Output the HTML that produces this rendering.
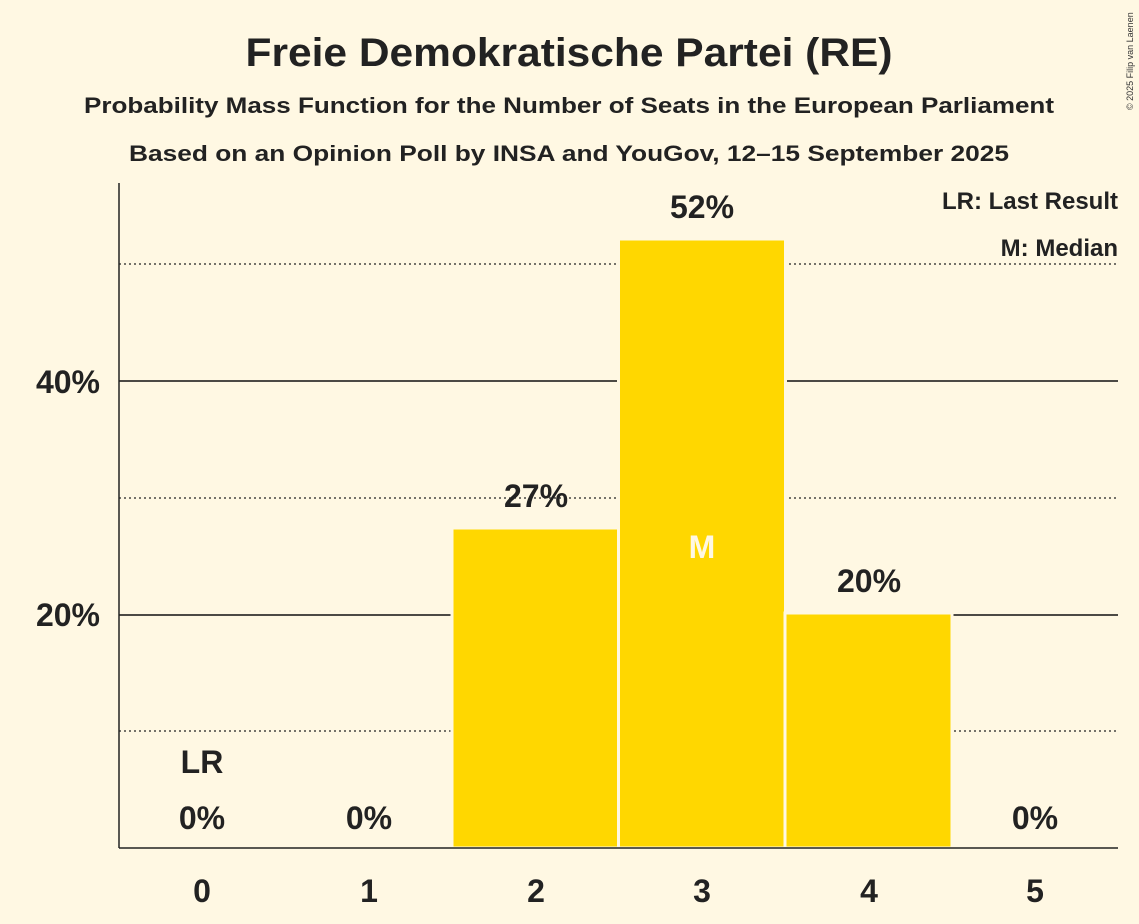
<!DOCTYPE html>
<html><head><meta charset="utf-8"><style>
html,body{margin:0;padding:0;background:#fff8e3;}
svg{display:block;font-family:"Liberation Sans",sans-serif;}
</style></head><body>
<svg width="1139" height="924" viewBox="0 0 1139 924">
<rect width="1139" height="924" fill="#fff8e3"/>
<text x="569" y="66" text-anchor="middle" font-size="40" font-weight="bold" fill="#222" textLength="647" lengthAdjust="spacingAndGlyphs">Freie Demokratische Partei (RE)</text>
<text x="569" y="113" text-anchor="middle" font-size="22" font-weight="bold" fill="#222" textLength="970" lengthAdjust="spacingAndGlyphs">Probability Mass Function for the Number of Seats in the European Parliament</text>
<text x="569" y="161" text-anchor="middle" font-size="22" font-weight="bold" fill="#222" textLength="880" lengthAdjust="spacingAndGlyphs">Based on an Opinion Poll by INSA and YouGov, 12–15 September 2025</text>
<text x="1133" y="110" font-size="9" fill="#333" transform="rotate(-90 1133 110)">© 2025 Filip van Laenen</text>
<g stroke="#222" stroke-width="1.3" stroke-dasharray="2,3">
<line x1="119" y1="731" x2="1118" y2="731"/>
<line x1="119" y1="498" x2="1118" y2="498"/>
<line x1="119" y1="264" x2="1118" y2="264"/>
</g>
<g stroke="#111" stroke-width="1.5">
<line x1="119" y1="615" x2="1118" y2="615"/>
<line x1="119" y1="381" x2="1118" y2="381"/>
</g>
<g fill="#ffd700" stroke="#fff8e3" stroke-width="3">
<rect x="452" y="528" width="167" height="320"/>
<rect x="618.5" y="239" width="167" height="609"/>
<rect x="785" y="613" width="167" height="235"/>
</g>
<line x1="119" y1="183" x2="119" y2="848" stroke="#222" stroke-width="1.5"/>
<line x1="119" y1="848" x2="1118" y2="848" stroke="#222" stroke-width="1.5"/>
<g font-size="32" font-weight="bold" fill="#222" text-anchor="end">
<text x="100" y="626">20%</text>
<text x="100" y="393">40%</text>
</g>
<g font-size="32" font-weight="bold" fill="#222" text-anchor="middle">
<text x="202" y="902">0</text><text x="369" y="902">1</text><text x="536" y="902">2</text>
<text x="702" y="902">3</text><text x="869" y="902">4</text><text x="1035" y="902">5</text>
<text x="202" y="829">0%</text><text x="369" y="829">0%</text><text x="1035" y="829">0%</text>
<text x="536" y="507">27%</text><text x="702" y="218">52%</text><text x="869" y="592">20%</text>
<text x="202" y="773">LR</text>
<text x="702" y="558" fill="#fff8e3">M</text>
</g>
<g font-size="24" font-weight="bold" fill="#222" text-anchor="end">
<text x="1118" y="209">LR: Last Result</text>
<text x="1118" y="256">M: Median</text>
</g>
</svg>
</body></html>
